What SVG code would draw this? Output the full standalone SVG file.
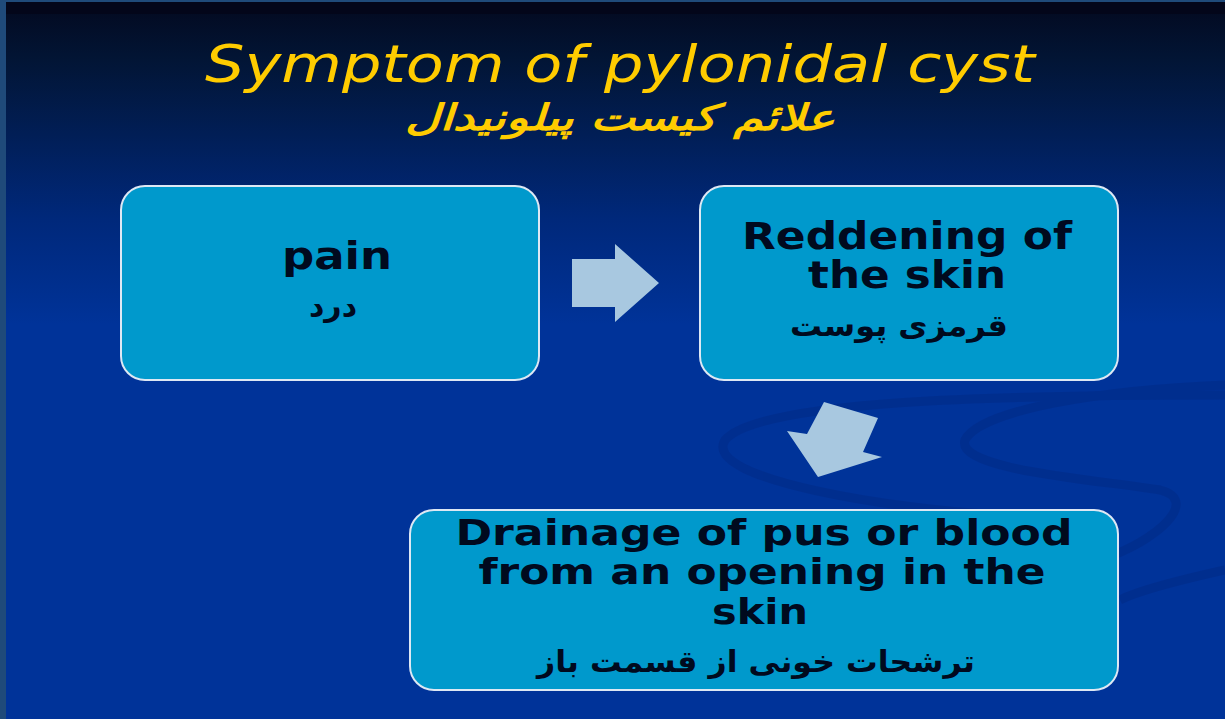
<svg xmlns="http://www.w3.org/2000/svg" width="1225" height="719" viewBox="0 0 1225 719">
<defs>
<linearGradient id="bg" x1="0" y1="0" x2="0" y2="1" gradientUnits="objectBoundingBox">
<stop offset="0" stop-color="#03091f"/>
<stop offset="0.08" stop-color="#021535"/>
<stop offset="0.3" stop-color="#00287a"/>
<stop offset="0.45" stop-color="#003399"/>
<stop offset="1" stop-color="#003399"/>
</linearGradient>
<style>
.box{fill:#0099cc;stroke:#dde8f4;stroke-width:2}
.en{font-family:"DejaVu Sans",Verdana,sans-serif;font-weight:bold;font-size:37px;fill:#000a1e;text-anchor:middle}
.en3{font-size:35px}
.fa{font-family:"DejaVu Sans","Noto Sans",sans-serif;font-weight:bold;font-size:30px;fill:#000a1e;text-anchor:middle}
.arrow{fill:#a8c8e0}
.title{font-family:"DejaVu Sans",sans-serif;font-style:italic;fill:#ffcc00;text-anchor:middle}
</style>
</defs>
<rect x="0" y="0" width="1225" height="719" fill="#1f4a7a"/>
<rect x="6" y="2" width="1219" height="717" fill="url(#bg)"/>
<rect x="6" y="2" width="1219" height="12" fill="#03061a"/>
<g id="swoosh" fill="none" stroke="#002c88" stroke-width="9" opacity="0.6">
<path d="M1225 395 C1000 395 760 400 725 440 C700 480 900 510 1000 515"/>
<path d="M1225 385 C1100 390 980 410 965 440 C955 470 1100 480 1160 490 C1200 500 1160 540 1100 560"/>
<path d="M1225 570 C1180 580 1140 590 1120 600"/>
</g>
<text class="title" x="620" y="82" font-size="52" textLength="830" lengthAdjust="spacingAndGlyphs">Symptom of pylonidal cyst</text>
<text class="title" x="620" y="130" font-size="36" font-weight="bold" textLength="430" lengthAdjust="spacingAndGlyphs" direction="rtl">علائم کیست پیلونیدال</text>
<g id="node-pain">
<rect class="box" x="121" y="186" width="418" height="194" rx="24"/>
<text class="en" x="337" y="269" textLength="110" lengthAdjust="spacingAndGlyphs">pain</text>
<text class="fa" x="333" y="316" direction="rtl">درد</text>
</g>
<g id="node-redden">
<rect class="box" x="700" y="186" width="418" height="194" rx="24"/>
<text class="en" x="907" y="249" textLength="330" lengthAdjust="spacingAndGlyphs">Reddening of</text>
<text class="en" x="907" y="288" textLength="198" lengthAdjust="spacingAndGlyphs">the skin</text>
<text class="fa" x="899" y="336" direction="rtl" textLength="218" lengthAdjust="spacingAndGlyphs">قرمزی پوست</text>
</g>
<g id="node-drain">
<rect class="box" x="410" y="510" width="708" height="180" rx="24"/>
<text class="en en3" x="764" y="545" textLength="617" lengthAdjust="spacingAndGlyphs">Drainage of pus or blood</text>
<text class="en en3" x="762" y="584" textLength="567" lengthAdjust="spacingAndGlyphs">from an opening in the</text>
<text class="en en3" x="760" y="624" textLength="96" lengthAdjust="spacingAndGlyphs">skin</text>
<text class="fa" x="756" y="672" direction="rtl" textLength="438" lengthAdjust="spacingAndGlyphs">ترشحات خونی از قسمت باز</text>
</g>
<g id="connectors">
<polygon class="arrow" points="572,259 615,259 615,244 659,283 615,322 615,307 572,307"/>
<polygon class="arrow" points="824,402 878,418 863,452 882,457 818,477 787,431 807,434"/>
</g>
</svg>
